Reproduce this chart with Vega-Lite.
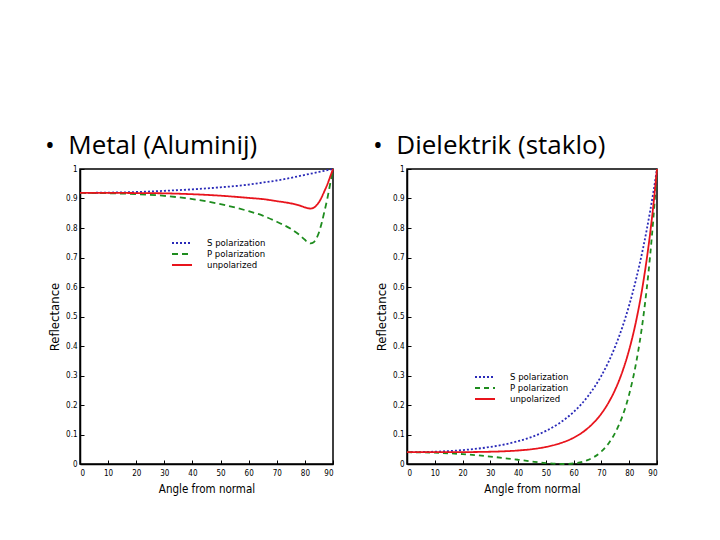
{
  "$schema": "https://vega.github.io/schema/vega-lite/v6.json",
  "background": "white",
  "padding": {"left": 44, "top": 132, "right": 20, "bottom": 20},
  "spacing": 34,
  "datasets": {
    "metal": [
      {"angle": 0, "series": "S polarization", "R": 0.919},
      {"angle": 10, "series": "S polarization", "R": 0.920},
      {"angle": 20, "series": "S polarization", "R": 0.922},
      {"angle": 30, "series": "S polarization", "R": 0.926},
      {"angle": 40, "series": "S polarization", "R": 0.931},
      {"angle": 50, "series": "S polarization", "R": 0.938},
      {"angle": 60, "series": "S polarization", "R": 0.947},
      {"angle": 65, "series": "S polarization", "R": 0.954},
      {"angle": 70, "series": "S polarization", "R": 0.961},
      {"angle": 75, "series": "S polarization", "R": 0.970},
      {"angle": 80, "series": "S polarization", "R": 0.980},
      {"angle": 85, "series": "S polarization", "R": 0.990},
      {"angle": 90, "series": "S polarization", "R": 1.0},
      {"angle": 0, "series": "P polarization", "R": 0.919},
      {"angle": 10, "series": "P polarization", "R": 0.918},
      {"angle": 20, "series": "P polarization", "R": 0.915},
      {"angle": 30, "series": "P polarization", "R": 0.909},
      {"angle": 40, "series": "P polarization", "R": 0.898},
      {"angle": 50, "series": "P polarization", "R": 0.881},
      {"angle": 60, "series": "P polarization", "R": 0.857},
      {"angle": 65, "series": "P polarization", "R": 0.842},
      {"angle": 70, "series": "P polarization", "R": 0.821},
      {"angle": 75, "series": "P polarization", "R": 0.797},
      {"angle": 78, "series": "P polarization", "R": 0.777},
      {"angle": 80, "series": "P polarization", "R": 0.760},
      {"angle": 81, "series": "P polarization", "R": 0.752},
      {"angle": 82, "series": "P polarization", "R": 0.748},
      {"angle": 83, "series": "P polarization", "R": 0.751},
      {"angle": 84, "series": "P polarization", "R": 0.763},
      {"angle": 85, "series": "P polarization", "R": 0.785},
      {"angle": 86, "series": "P polarization", "R": 0.818},
      {"angle": 87, "series": "P polarization", "R": 0.858},
      {"angle": 88, "series": "P polarization", "R": 0.900},
      {"angle": 89, "series": "P polarization", "R": 0.950},
      {"angle": 90, "series": "P polarization", "R": 1.0},
      {"angle": 0, "series": "unpolarized", "R": 0.919},
      {"angle": 10, "series": "unpolarized", "R": 0.919},
      {"angle": 20, "series": "unpolarized", "R": 0.9185},
      {"angle": 30, "series": "unpolarized", "R": 0.9175},
      {"angle": 40, "series": "unpolarized", "R": 0.9145},
      {"angle": 50, "series": "unpolarized", "R": 0.9095},
      {"angle": 60, "series": "unpolarized", "R": 0.902},
      {"angle": 65, "series": "unpolarized", "R": 0.898},
      {"angle": 70, "series": "unpolarized", "R": 0.891},
      {"angle": 75, "series": "unpolarized", "R": 0.8835},
      {"angle": 78, "series": "unpolarized", "R": 0.8765},
      {"angle": 80, "series": "unpolarized", "R": 0.870},
      {"angle": 81, "series": "unpolarized", "R": 0.867},
      {"angle": 82, "series": "unpolarized", "R": 0.866},
      {"angle": 83, "series": "unpolarized", "R": 0.868},
      {"angle": 84, "series": "unpolarized", "R": 0.8755},
      {"angle": 85, "series": "unpolarized", "R": 0.8875},
      {"angle": 86, "series": "unpolarized", "R": 0.905},
      {"angle": 87, "series": "unpolarized", "R": 0.926},
      {"angle": 88, "series": "unpolarized", "R": 0.948},
      {"angle": 89, "series": "unpolarized", "R": 0.974},
      {"angle": 90, "series": "unpolarized", "R": 1.0}
    ],
    "glass": [
      {"angle": 0, "series": "S polarization", "R": 0.04},
      {"angle": 10, "series": "S polarization", "R": 0.0417},
      {"angle": 20, "series": "S polarization", "R": 0.0471},
      {"angle": 30, "series": "S polarization", "R": 0.0578},
      {"angle": 35, "series": "S polarization", "R": 0.0661},
      {"angle": 40, "series": "S polarization", "R": 0.0772},
      {"angle": 45, "series": "S polarization", "R": 0.0920},
      {"angle": 50, "series": "S polarization", "R": 0.1121},
      {"angle": 55, "series": "S polarization", "R": 0.1393},
      {"angle": 60, "series": "S polarization", "R": 0.1766},
      {"angle": 65, "series": "S polarization", "R": 0.2281},
      {"angle": 70, "series": "S polarization", "R": 0.2996},
      {"angle": 72.5, "series": "S polarization", "R": 0.3453},
      {"angle": 75, "series": "S polarization", "R": 0.3994},
      {"angle": 77.5, "series": "S polarization", "R": 0.4632},
      {"angle": 80, "series": "S polarization", "R": 0.5386},
      {"angle": 82.5, "series": "S polarization", "R": 0.6276},
      {"angle": 85, "series": "S polarization", "R": 0.7323},
      {"angle": 87.5, "series": "S polarization", "R": 0.8555},
      {"angle": 88.75, "series": "S polarization", "R": 0.9250},
      {"angle": 90, "series": "S polarization", "R": 1.0},
      {"angle": 0, "series": "P polarization", "R": 0.04},
      {"angle": 10, "series": "P polarization", "R": 0.0384},
      {"angle": 20, "series": "P polarization", "R": 0.0335},
      {"angle": 30, "series": "P polarization", "R": 0.0253},
      {"angle": 35, "series": "P polarization", "R": 0.0200},
      {"angle": 40, "series": "P polarization", "R": 0.0143},
      {"angle": 45, "series": "P polarization", "R": 0.0085},
      {"angle": 50, "series": "P polarization", "R": 0.0033},
      {"angle": 55, "series": "P polarization", "R": 0.0002},
      {"angle": 56.3, "series": "P polarization", "R": 0.0},
      {"angle": 60, "series": "P polarization", "R": 0.0018},
      {"angle": 65, "series": "P polarization", "R": 0.0130},
      {"angle": 70, "series": "P polarization", "R": 0.0425},
      {"angle": 72.5, "series": "P polarization", "R": 0.0688},
      {"angle": 75, "series": "P polarization", "R": 0.1068},
      {"angle": 77.5, "series": "P polarization", "R": 0.1607},
      {"angle": 80, "series": "P polarization", "R": 0.2368},
      {"angle": 82.5, "series": "P polarization", "R": 0.3436},
      {"angle": 85, "series": "P polarization", "R": 0.4933},
      {"angle": 87.5, "series": "P polarization", "R": 0.7035},
      {"angle": 88.75, "series": "P polarization", "R": 0.8389},
      {"angle": 90, "series": "P polarization", "R": 1.0},
      {"angle": 0, "series": "unpolarized", "R": 0.04},
      {"angle": 10, "series": "unpolarized", "R": 0.0400},
      {"angle": 20, "series": "unpolarized", "R": 0.0403},
      {"angle": 30, "series": "unpolarized", "R": 0.0416},
      {"angle": 35, "series": "unpolarized", "R": 0.0431},
      {"angle": 40, "series": "unpolarized", "R": 0.0458},
      {"angle": 45, "series": "unpolarized", "R": 0.0503},
      {"angle": 50, "series": "unpolarized", "R": 0.0577},
      {"angle": 55, "series": "unpolarized", "R": 0.0698},
      {"angle": 60, "series": "unpolarized", "R": 0.0892},
      {"angle": 65, "series": "unpolarized", "R": 0.1206},
      {"angle": 70, "series": "unpolarized", "R": 0.1711},
      {"angle": 72.5, "series": "unpolarized", "R": 0.2071},
      {"angle": 75, "series": "unpolarized", "R": 0.2531},
      {"angle": 77.5, "series": "unpolarized", "R": 0.3120},
      {"angle": 80, "series": "unpolarized", "R": 0.3877},
      {"angle": 82.5, "series": "unpolarized", "R": 0.4856},
      {"angle": 85, "series": "unpolarized", "R": 0.6128},
      {"angle": 87.5, "series": "unpolarized", "R": 0.7795},
      {"angle": 88.75, "series": "unpolarized", "R": 0.8820},
      {"angle": 90, "series": "unpolarized", "R": 1.0}
    ]
  },
  "hconcat": [
    {
      "title": {"text": "•\u00a0\u00a0Metal (Aluminij)", "anchor": "start", "frame": "group", "dx": -35, "offset": 6},
      "width": 253,
      "height": 295,
      "data": {"name": "metal"},
      "mark": {"type": "line", "strokeWidth": 1.8, "interpolate": "monotone"},
      "encoding": {
        "x": {"field": "angle", "type": "quantitative", "title": "Angle from normal",
              "scale": {"domain": [0, 90], "nice": false},
              "axis": {"values": [0, 10, 20, 30, 40, 50, 60, 70, 80, 90]}},
        "y": {"field": "R", "type": "quantitative", "title": "Reflectance",
              "scale": {"domain": [0, 1], "nice": false},
              "axis": {"values": [0, 0.1, 0.2, 0.3, 0.4, 0.5, 0.6, 0.7, 0.8, 0.9, 1], "format": "~g"}},
        "color": {"field": "series", "type": "nominal",
                  "scale": {"domain": ["S polarization", "P polarization", "unpolarized"], "range": ["#2a2ab8", "#1e8c1e", "#e8141c"]},
                  "legend": {"orient": "none", "legendX": 91, "legendY": 68}},
        "strokeDash": {"field": "series", "type": "nominal",
                  "scale": {"domain": ["S polarization", "P polarization", "unpolarized"], "range": [[2, 2], [6, 4], [1, 0]]},
                  "legend": {"orient": "none", "legendX": 91, "legendY": 68}}
      }
    },
    {
      "title": {"text": "•\u00a0\u00a0Dielektrik (staklo)", "anchor": "start", "frame": "group", "dx": -34, "offset": 6},
      "width": 250,
      "height": 295,
      "data": {"name": "glass"},
      "mark": {"type": "line", "strokeWidth": 1.8, "interpolate": "monotone"},
      "encoding": {
        "x": {"field": "angle", "type": "quantitative", "title": "Angle from normal",
              "scale": {"domain": [0, 90], "nice": false},
              "axis": {"values": [0, 10, 20, 30, 40, 50, 60, 70, 80, 90]}},
        "y": {"field": "R", "type": "quantitative", "title": "Reflectance",
              "scale": {"domain": [0, 1], "nice": false},
              "axis": {"values": [0, 0.1, 0.2, 0.3, 0.4, 0.5, 0.6, 0.7, 0.8, 0.9, 1], "format": "~g"}},
        "color": {"field": "series", "type": "nominal",
                  "scale": {"domain": ["S polarization", "P polarization", "unpolarized"], "range": ["#2a2ab8", "#1e8c1e", "#e8141c"]},
                  "legend": {"orient": "none", "legendX": 67, "legendY": 202}},
        "strokeDash": {"field": "series", "type": "nominal",
                  "scale": {"domain": ["S polarization", "P polarization", "unpolarized"], "range": [[2, 2], [5, 4], [1, 0]]},
                  "legend": {"orient": "none", "legendX": 67, "legendY": 202}}
      }
    }
  ],
  "resolve": {
    "scale": {"color": "independent", "strokeDash": "independent", "x": "independent", "y": "independent"},
    "legend": {"color": "independent", "strokeDash": "independent"}
  },
  "config": {
    "view": {"stroke": "black", "strokeWidth": 1.5},
    "title": {"font": "Open Sans", "fontSize": 26, "fontWeight": "normal", "color": "black"},
    "axis": {
      "domainColor": "black", "domainWidth": 1.5,
      "tickColor": "black", "tickSize": -4, "tickWidth": 1,
      "labelPadding": 7, "grid": false,
      "labelFont": "DejaVu Sans Condensed, Liberation Sans", "labelFontSize": 8, "labelColor": "black",
      "titleFont": "DejaVu Sans Condensed, Liberation Sans", "titleFontWeight": "normal", "titleColor": "black"
    },
    "axisY": {"titlePadding": 4, "titleFontSize": 13},
    "axisX": {"titlePadding": 6, "labelPadding": 9, "titleFontSize": 11.5},
    "legend": {
      "title": null, "symbolType": "M-1,0H3", "symbolSize": 100, "symbolStrokeWidth": 2,
      "labelFont": "DejaVu Sans Condensed, Liberation Sans", "labelFontSize": 9.5, "labelColor": "black",
      "rowPadding": 0, "labelOffset": 24
    }
  }
}
